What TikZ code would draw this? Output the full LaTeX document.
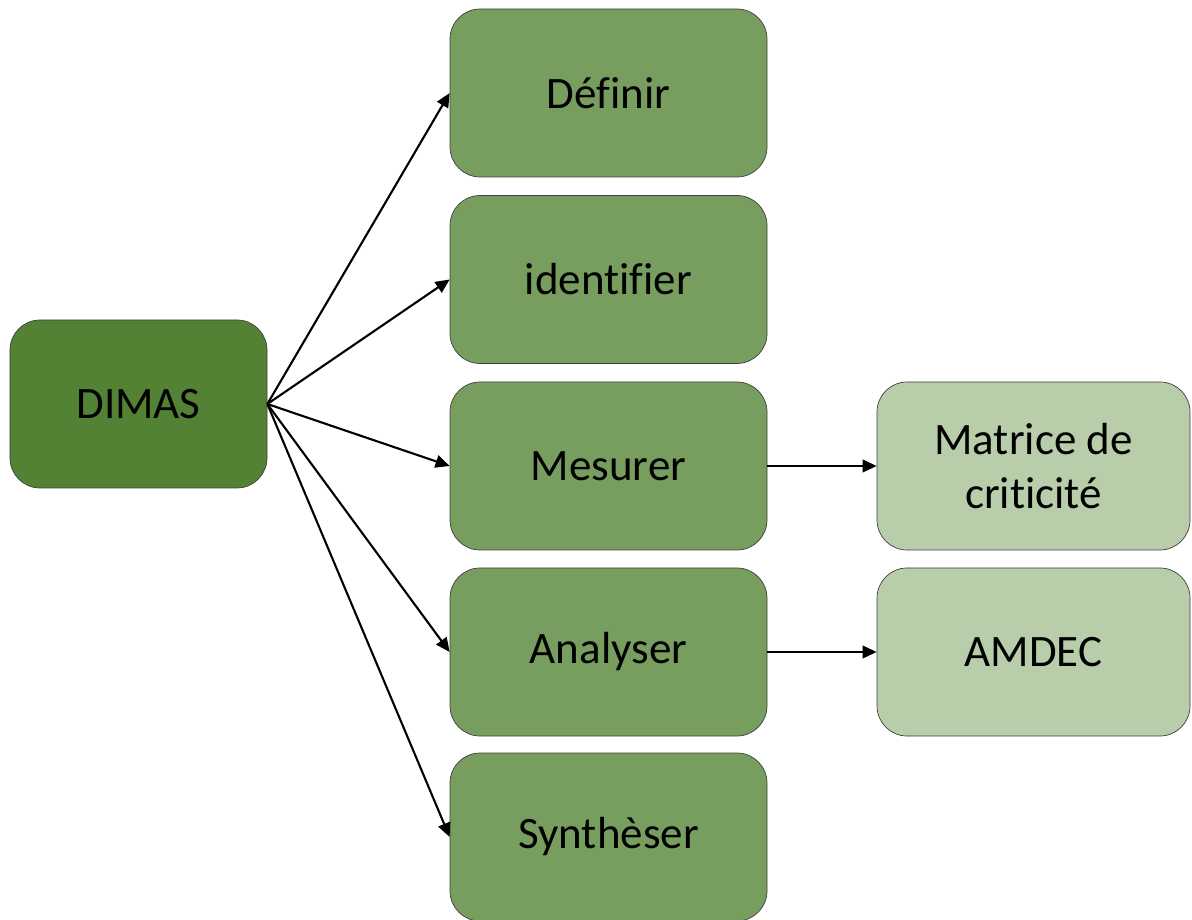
\documentclass[tikz,border=0pt]{standalone}
\usepackage{fontspec}
\setmainfont[Ligatures=NoCommon]{Carlito}
\usetikzlibrary{arrows.meta}

\definecolor{dimasgreen}{HTML}{548235}
\definecolor{stepgreen}{HTML}{779E5F}
\definecolor{toolgreen}{HTML}{B8CDA9}
\definecolor{boxline}{HTML}{3F3F3F}

\begin{document}
\begin{tikzpicture}[>={Triangle[length=10pt,width=9pt]},
    box/.style={draw=boxline, line width=0.5pt, rounded corners=0.75cm,
        minimum height=4.2cm, align=center,
        font=\fontsize{32}{39}\selectfont},
    mainbox/.style={box, fill=dimasgreen, minimum width=6.425cm},
    stepbox/.style={box, fill=stepgreen, minimum width=7.925cm},
    toolbox/.style={box, fill=toolgreen, minimum width=7.825cm},
    link/.style={->, line width=1.5pt}]
    \useasboundingbox (0,0) rectangle (29.8,22.975);

    \node[mainbox] (dimas) at (3.4625,12.875) {DIMAS};

    \node[stepbox] (definir) at (15.2125,20.65) {Définir};
    \node[stepbox] (identifier) at (15.2125,15.9875) {identifier};
    \node[stepbox] (mesurer) at (15.2125,11.325) {Mesurer};
    \node[stepbox] (analyser) at (15.2125,6.675) {Analyser};
    \node[stepbox] (synth) at (15.2125,2.05) {Synthèser};

    \node[toolbox] (matrice) at (25.8375,11.325) {Matrice de\\criticité};
    \node[toolbox] (amdec) at (25.8375,6.675) {AMDEC};

    \foreach \s in {definir,identifier,mesurer,analyser,synth}
        \draw[link] (dimas.east) -- (\s.west);

    \draw[link] (mesurer) -- (matrice);
    \draw[link] (analyser) -- (amdec);
\end{tikzpicture}
\end{document}
